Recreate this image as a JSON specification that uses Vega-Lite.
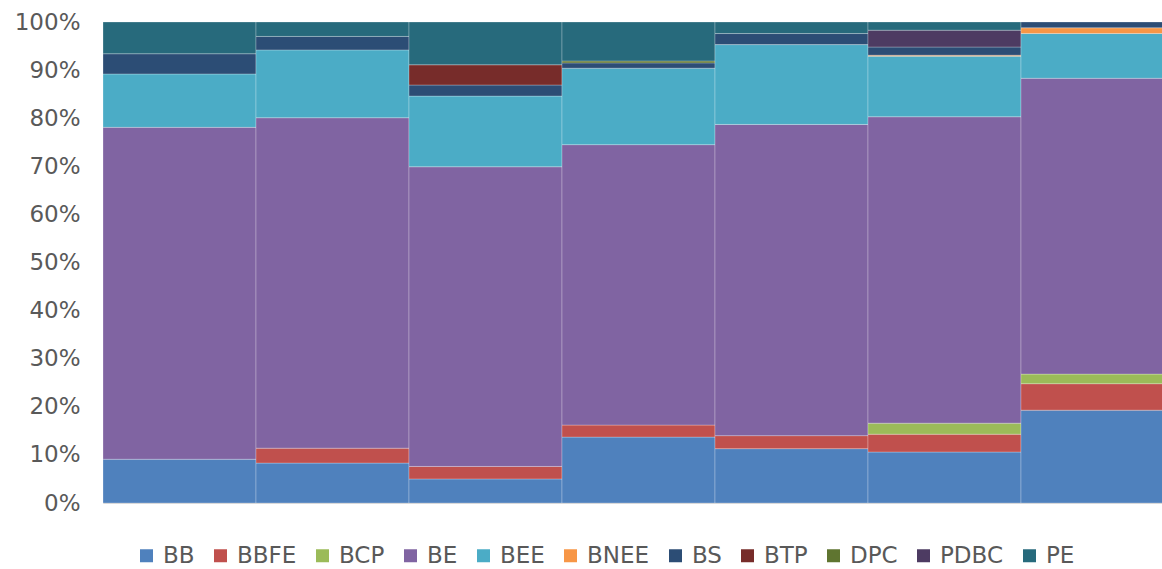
{
  "$schema": "https://vega.github.io/schema/vega-lite/v6.json",
  "width": 1059,
  "height": 481,
  "autosize": {"type": "none"},
  "padding": {"left": 103, "top": 22, "right": 0, "bottom": 66},
  "background": "#ffffff",
  "config": {
    "font": "DejaVu Sans",
    "view": {"stroke": "#d9d9d9", "strokeWidth": 1}
  },
  "data": {
    "values": [
      {"grupo": 1, "serie": "BB", "valor": 9.1},
      {"grupo": 1, "serie": "BE", "valor": 69.0},
      {"grupo": 1, "serie": "BEE", "valor": 11.1},
      {"grupo": 1, "serie": "BS", "valor": 4.2},
      {"grupo": 1, "serie": "PE", "valor": 6.6},

      {"grupo": 2, "serie": "BB", "valor": 8.3},
      {"grupo": 2, "serie": "BBFE", "valor": 3.1},
      {"grupo": 2, "serie": "BE", "valor": 68.7},
      {"grupo": 2, "serie": "BEE", "valor": 14.1},
      {"grupo": 2, "serie": "BS", "valor": 2.8},
      {"grupo": 2, "serie": "PE", "valor": 3.0},

      {"grupo": 3, "serie": "BB", "valor": 5.0},
      {"grupo": 3, "serie": "BBFE", "valor": 2.6},
      {"grupo": 3, "serie": "BE", "valor": 62.3},
      {"grupo": 3, "serie": "BEE", "valor": 14.7},
      {"grupo": 3, "serie": "BS", "valor": 2.3},
      {"grupo": 3, "serie": "BTP", "valor": 4.2},
      {"grupo": 3, "serie": "PE", "valor": 8.9},

      {"grupo": 4, "serie": "BB", "valor": 13.7},
      {"grupo": 4, "serie": "BBFE", "valor": 2.5},
      {"grupo": 4, "serie": "BE", "valor": 58.3},
      {"grupo": 4, "serie": "BEE", "valor": 15.9},
      {"grupo": 4, "serie": "BS", "valor": 1.1},
      {"grupo": 4, "serie": "DPC", "valor": 0.4},
      {"grupo": 4, "serie": "PE", "valor": 8.1},

      {"grupo": 5, "serie": "BB", "valor": 11.3},
      {"grupo": 5, "serie": "BBFE", "valor": 2.7},
      {"grupo": 5, "serie": "BE", "valor": 64.7},
      {"grupo": 5, "serie": "BEE", "valor": 16.6},
      {"grupo": 5, "serie": "BS", "valor": 2.3},
      {"grupo": 5, "serie": "PE", "valor": 2.4},

      {"grupo": 6, "serie": "BB", "valor": 10.6},
      {"grupo": 6, "serie": "BBFE", "valor": 3.7},
      {"grupo": 6, "serie": "BCP", "valor": 2.3},
      {"grupo": 6, "serie": "BE", "valor": 63.7},
      {"grupo": 6, "serie": "BEE", "valor": 12.6},
      {"grupo": 6, "serie": "BNEE", "valor": 0.2},
      {"grupo": 6, "serie": "BS", "valor": 1.7},
      {"grupo": 6, "serie": "PDBC", "valor": 3.5},
      {"grupo": 6, "serie": "PE", "valor": 1.7},

      {"grupo": 7, "serie": "BB", "valor": 19.3},
      {"grupo": 7, "serie": "BBFE", "valor": 5.5},
      {"grupo": 7, "serie": "BCP", "valor": 2.0},
      {"grupo": 7, "serie": "BE", "valor": 61.5},
      {"grupo": 7, "serie": "BEE", "valor": 9.3},
      {"grupo": 7, "serie": "BNEE", "valor": 1.2},
      {"grupo": 7, "serie": "BS", "valor": 1.2}
    ]
  },
  "mark": {"type": "bar", "clip": true, "stroke": "#ffffff", "strokeOpacity": 0.25, "strokeWidth": 1},
  "encoding": {
    "x": {
      "field": "grupo",
      "type": "ordinal",
      "scale": {"range": [0, 1071], "paddingInner": 0, "paddingOuter": 0},
      "axis": null
    },
    "y": {
      "field": "valor",
      "type": "quantitative",
      "stack": "normalize",
      "scale": {"domain": [0, 1], "nice": false},
      "axis": {
        "format": ".0%",
        "values": [0, 0.1, 0.2, 0.3, 0.4, 0.5, 0.6, 0.7, 0.8, 0.9, 1],
        "grid": false,
        "ticks": false,
        "domain": false,
        "labelPadding": 23,
        "labelFont": "DejaVu Sans",
        "labelFontSize": 23,
        "labelColor": "#595959",
        "title": null
      }
    },
    "color": {
      "field": "serie",
      "type": "nominal",
      "scale": {
        "domain": ["BB", "BBFE", "BCP", "BE", "BEE", "BNEE", "BS", "BTP", "DPC", "PDBC", "PE"],
        "range": ["#4f81bd", "#c0504d", "#9bbb59", "#8064a2", "#4bacc6", "#f79646", "#2c4d75", "#772c2a", "#5f7530", "#4d3b62", "#276a7c"]
      },
      "legend": {
        "orient": "none",
        "legendX": 32,
        "legendY": 522,
        "direction": "horizontal",
        "title": null,
        "symbolType": "square",
        "symbolSize": 169,
        "symbolStrokeWidth": 0,
        "labelFont": "DejaVu Sans",
        "labelFontSize": 23,
        "labelColor": "#595959",
        "labelOffset": 5,
        "columnPadding": 14
      }
    },
    "order": {"field": "serie", "sort": "ascending"}
  }
}
